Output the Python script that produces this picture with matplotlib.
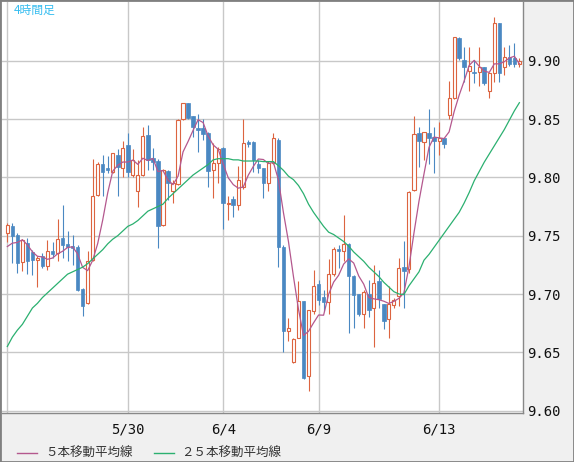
import numpy as np
import pandas as pd
import matplotlib
matplotlib.use("Agg")
import matplotlib.pyplot as plt
from matplotlib.patches import Rectangle
from matplotlib.lines import Line2D

# 4-hour candles (103 bars)
opens = [9.752, 9.758, 9.7507, 9.7273, 9.7436, 9.736, 9.729, 9.733, 9.7236, 9.737,
         9.735, 9.748, 9.7427, 9.7413, 9.7399, 9.7045, 9.6922, 9.7293, 9.785, 9.8112,
         9.8078, 9.805, 9.8192, 9.8078, 9.8278, 9.8024, 9.7884, 9.8021, 9.8364, 9.8164,
         9.8144, 9.7593, 9.8058, 9.7879, 9.7941, 9.8498, 9.8641, 9.8526, 9.8421, 9.8421,
         9.8384, 9.8064, 9.8127, 9.825, 9.777, 9.7816, 9.7764, 9.7916, 9.8301, 9.8307,
         9.8115, 9.8079, 9.795, 9.8122, 9.8321, 9.7402, 9.668, 9.6418, 9.6623, 9.6937,
         9.6295, 9.6852, 9.7088, 9.6974, 9.6929, 9.7174, 9.7385, 9.7365, 9.7431, 9.7157,
         9.7002, 9.6831, 9.7002, 9.688, 9.7108, 9.6917, 9.6788, 9.6908, 9.698, 9.7228,
         9.7214, 9.7893, 9.8378, 9.8307, 9.8378, 9.8343, 9.8315, 9.834, 9.8535, 9.8677,
         9.9195, 9.9006, 9.8915, 9.8906, 9.89, 9.8943, 9.8743, 9.8897, 9.932, 9.8949,
         9.9029, 9.902, 9.8972]
highs = [9.761, 9.761, 9.752, 9.747, 9.748, 9.738, 9.733, 9.735, 9.746, 9.745,
         9.7645, 9.776, 9.7536, 9.7507, 9.7422, 9.705, 9.7365, 9.8155, 9.8135, 9.8192,
         9.8184, 9.8212, 9.8241, 9.8315, 9.8378, 9.8241, 9.815, 9.843, 9.845, 9.825,
         9.8155, 9.807, 9.8064, 9.7978, 9.85, 9.864, 9.8641, 9.853, 9.8544, 9.8498,
         9.8392, 9.8298, 9.8264, 9.8258, 9.7841, 9.7841, 9.8093, 9.85, 9.832, 9.831,
         9.815, 9.8084, 9.8144, 9.8378, 9.8336, 9.7422, 9.6795, 9.662, 9.7108, 9.694,
         9.686, 9.7208, 9.7123, 9.7037, 9.73, 9.7402, 9.7422, 9.768, 9.7436, 9.716,
         9.7002, 9.7031, 9.7122, 9.725, 9.7208, 9.6917, 9.7065, 9.6965, 9.7308, 9.7456,
         9.788, 9.8526, 9.8435, 9.8392, 9.8583, 9.8435, 9.8478, 9.834, 9.8829, 9.92,
         9.92, 9.912, 9.9114, 9.9006, 9.9114, 9.8943, 9.8897, 9.9371, 9.9326, 9.9114,
         9.9134, 9.9154, 9.902]
lows = [9.745, 9.727, 9.718, 9.7193, 9.717, 9.716, 9.706, 9.722, 9.721, 9.731,
        9.728, 9.731, 9.728, 9.725, 9.7022, 9.6808, 9.6917, 9.7279, 9.7836, 9.7841,
        9.8041, 9.8035, 9.7841, 9.8007, 9.8007, 9.8005, 9.775, 9.8013, 9.8064, 9.8064,
        9.7393, 9.758, 9.7807, 9.7779, 9.7936, 9.8492, 9.85, 9.8349, 9.822, 9.832,
        9.7921, 9.7821, 9.795, 9.7556, 9.7636, 9.7664, 9.7722, 9.7901, 9.826, 9.805,
        9.8035, 9.782, 9.7879, 9.8116, 9.7231, 9.65, 9.6595, 9.641, 9.662, 9.627,
        9.6167, 9.683, 9.6903, 9.6852, 9.683, 9.7157, 9.7222, 9.728, 9.667, 9.6708,
        9.6808, 9.6708, 9.6803, 9.655, 9.688, 9.67, 9.6623, 9.688, 9.6894, 9.688,
        9.718, 9.7887, 9.8087, 9.815, 9.8115, 9.8041, 9.8192, 9.8249, 9.8498, 9.8672,
        9.9006, 9.882, 9.8743, 9.8812, 9.8783, 9.8792, 9.8678, 9.882, 9.882, 9.8877,
        9.8954, 9.8949, 9.8949]
closes = [9.759, 9.750, 9.7265, 9.7465, 9.7287, 9.729, 9.731, 9.7236, 9.7365, 9.734,
          9.747, 9.742, 9.7399, 9.7393, 9.7036, 9.6894, 9.7279, 9.7841, 9.8112, 9.8044,
          9.8064, 9.8207, 9.8092, 9.8249, 9.8044, 9.815, 9.8021, 9.8355, 9.815, 9.8135,
          9.7587, 9.8064, 9.795, 9.795, 9.8492, 9.8635, 9.8507, 9.8429, 9.8407, 9.837,
          9.8058, 9.8127, 9.8241, 9.7779, 9.7779, 9.7764, 9.7973, 9.8293, 9.8287, 9.815,
          9.8084, 9.795, 9.8122, 9.8336, 9.7402, 9.668, 9.6709, 9.6615, 9.6937, 9.6281,
          9.686, 9.7071, 9.6951, 9.6929, 9.7174, 9.7385, 9.7365, 9.7431, 9.7151, 9.6994,
          9.6831, 9.7014, 9.686, 9.7094, 9.6957, 9.6766, 9.6917, 9.6951, 9.7222, 9.7194,
          9.7878, 9.8369, 9.8315, 9.8392, 9.8335, 9.8315, 9.8335, 9.8286, 9.8677, 9.92,
          9.902, 9.8949, 9.8954, 9.8892, 9.8943, 9.8812, 9.8897, 9.932, 9.8892, 9.9034,
          9.8972, 9.8972, 9.90]

# 5-bar MA values for the first 4 bars (need earlier data)
ma5_head = [9.7407, 9.7436, 9.7442, 9.7465]

# 25-bar moving average line
ma25 = [9.655, 9.663, 9.669, 9.674, 9.681, 9.688, 9.692, 9.697, 9.701, 9.705,
        9.709, 9.713, 9.717, 9.719, 9.721, 9.723, 9.726, 9.730, 9.734, 9.738,
        9.743, 9.747, 9.750, 9.754, 9.758, 9.760, 9.763, 9.767, 9.771, 9.773,
        9.775, 9.777, 9.782, 9.786, 9.790, 9.794, 9.798, 9.802, 9.805, 9.808,
        9.811, 9.815, 9.816, 9.816, 9.816, 9.815, 9.815, 9.814, 9.814, 9.814,
        9.814, 9.8135, 9.8135, 9.8135, 9.810, 9.806, 9.801, 9.798, 9.793, 9.786,
        9.777, 9.770, 9.764, 9.758, 9.753, 9.751, 9.748, 9.745, 9.741, 9.736,
        9.732, 9.728, 9.723, 9.719, 9.715, 9.710, 9.706, 9.702, 9.700, 9.6995,
        9.707, 9.713, 9.719, 9.729, 9.734, 9.740, 9.746, 9.752, 9.758, 9.764,
        9.770, 9.778, 9.787, 9.797, 9.805, 9.813, 9.820, 9.827, 9.834, 9.841,
        9.849, 9.857, 9.864]

day_pos = [0, 24, 43, 62, 86]
day_labels = ["", "5/30", "6/4", "6/9", "6/13"]
price_ticks = [9.60, 9.65, 9.70, 9.75, 9.80, 9.85, 9.90]

red = "#dc6440"
blue = "#4a88c2"
purple = "#b4588e"
green = "#2bb070"

df = pd.DataFrame({"open": opens, "high": highs, "low": lows, "close": closes})
df["ma5"] = df["close"].rolling(5).mean()
df.loc[0:3, "ma5"] = ma5_head
df["ma25"] = ma25
x = np.arange(len(df))
up = (df["close"] >= df["open"]).values
body_lo = np.minimum(df["open"], df["close"]).values
body_h = np.maximum(np.abs(df["close"] - df["open"]).values, 0.0004)

fig = plt.figure(figsize=(5.74, 4.62), dpi=100, facecolor="#f0f0f0")
ax = fig.add_axes([1.5 / 574, 49 / 462, 521.5 / 574, 411 / 462])
ax.set_facecolor("white")

# wicks
ax.vlines(x[up], df["low"][up], df["high"][up], colors=red, lw=0.8, zorder=2)
ax.vlines(x[~up], df["low"][~up], df["high"][~up], colors=blue, lw=0.8, zorder=2)
# bodies
ax.bar(x[up], body_h[up], bottom=body_lo[up], width=0.62,
       facecolor="white", edgecolor=red, lw=0.8, zorder=3)
ax.bar(x[~up], body_h[~up], bottom=body_lo[~up], width=0.7,
       facecolor=blue, edgecolor=blue, lw=0.5, zorder=3)

# moving averages
ax.plot(x, df["ma5"], color=purple, lw=0.9, zorder=4)
ax.plot(x, df["ma25"], color=green, lw=0.9, zorder=4)

ax.set_xlim(-1.16, 102.72)
ax.set_ylim(9.598, 9.9503)
ax.set_xticks(day_pos)
ax.set_xticklabels(day_labels)
ax.set_yticks(price_ticks)
ax.set_yticklabels([f"{v:.2f}" for v in price_ticks])
ax.yaxis.tick_right()
ax.grid(color="#c8c8c8", lw=1, zorder=0)
ax.set_axisbelow(True)
ax.tick_params(axis="y", length=0, pad=3, labelsize=10, labelcolor="#111111")
ax.tick_params(axis="x", length=0, pad=7, labelsize=10, labelcolor="#111111")
for lab in ax.get_xticklabels() + ax.get_yticklabels():
    lab.set_family("DejaVu Sans Mono")
for s in ["top", "left"]:
    ax.spines[s].set_visible(False)
for s in ["right", "bottom"]:
    ax.spines[s].set_color("#888888")
    ax.spines[s].set_linewidth(1)

# corner label
fig.text(14 / 574, 1 - 10 / 462, "4時間足", color="#36bdf0", fontsize=8.5,
         family=["Noto Sans CJK JP", "DejaVu Sans"], va="center", ha="left")

# legend
ly = 1 - 453 / 462
fig.add_artist(Line2D([16.5 / 574, 36.6 / 574], [ly, ly], color=purple, lw=1))
fig.text(45 / 574, ly, "５本移動平均線", fontsize=9, color="#333333",
         family=["Noto Sans CJK JP", "DejaVu Sans"], va="center", ha="left")
fig.add_artist(Line2D([154 / 574, 174 / 574], [ly, ly], color=green, lw=1))
fig.text(181 / 574, ly, "２５本移動平均線", fontsize=9, color="#333333",
         family=["Noto Sans CJK JP", "DejaVu Sans"], va="center", ha="left")

# outer frame
fig.add_artist(Rectangle((0, 0), 1, 1, transform=fig.transFigure, fill=False,
                         edgecolor="#808080", lw=2))

fig.savefig("out.png", dpi=100, facecolor=fig.get_facecolor())
